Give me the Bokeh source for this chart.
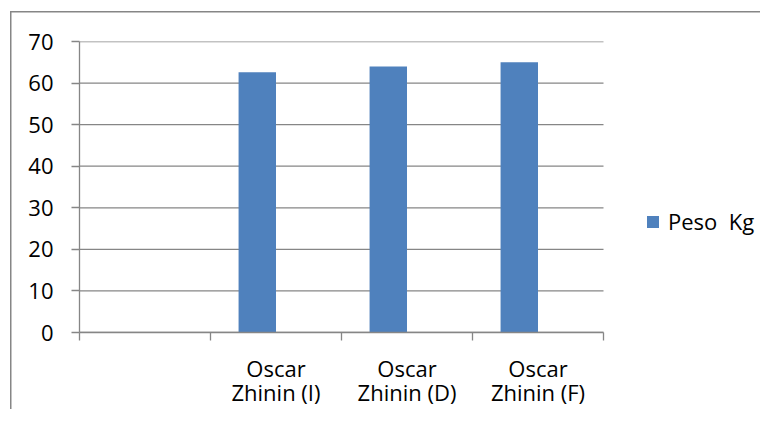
from bokeh.plotting import figure
from bokeh.models import (Range1d, FixedTicker, Legend, LegendItem, ColumnDataSource)
from bokeh.embed import file_html
from bokeh.resources import INLINE

# ---- data ----
categories = ["", "Oscar\nZhinin (I)", "Oscar\nZhinin (D)", "Oscar\nZhinin (F)"]
peso_kg = [None, 62.6, 64.0, 65.0]
series_name = "Peso  Kg"
y_ticks = [0, 10, 20, 30, 40, 50, 60, 70]

BLUE = "#4F81BD"
GRAY = "#868686"
FONT = "Open Sans"

n = len(categories)
# two-series Excel layout (second series empty), gap width 150%
bar_w = 1.0 / 3.5
xs = [i + 0.5 - bar_w / 2 for i in range(n)]
tops = [float("nan") if v is None else v for v in peso_kg]
src = ColumnDataSource(dict(x=xs, top=tops))

W, H = 760, 409
ML, MT, MB = 79, 41, 77
plot_px = 524  # width of the category area
x_end = n * (W - ML) / plot_px  # frame extends to the right to host the legend

p = figure(width=W, height=H, output_backend="svg", toolbar_location=None,
           x_range=Range1d(0, x_end), y_range=Range1d(0, 70),
           min_border_left=ML, min_border_right=0, min_border_top=MT, min_border_bottom=MB)
p.outline_line_color = None
p.background_fill_color = "white"
p.border_fill_alpha = 0
# chart-area border (only its top and left edges fall inside the picture)
p.styles = {
    "background-color": "white",
    "background-image": "linear-gradient(#868686,#868686), linear-gradient(#868686,#868686)",
    "background-size": "1.5px 100%, 100% 1.5px",
    "background-position": "10px 11px, 10px 11px",
    "background-repeat": "no-repeat",
}

# horizontal gridlines limited to the category area
p.segment(x0=[0] * len(y_ticks), x1=[n] * len(y_ticks), y0=y_ticks, y1=y_ticks,
          line_color=GRAY, line_width=1.3)

r = p.vbar(x="x", top="top", width=bar_w, bottom=0, source=src,
           fill_color=BLUE, line_color=None)

# x axis
xa = p.xaxis[0]
xa.bounds = (0, n)
xa.ticker = FixedTicker(ticks=[i + 0.5 for i in range(n)], minor_ticks=list(range(n + 1)))
xa.major_label_overrides = {i + 0.5: c for i, c in enumerate(categories)}
xa.major_tick_line_color = None
xa.major_tick_out = 0
xa.major_tick_in = 0
xa.minor_tick_line_color = GRAY
xa.minor_tick_out = 8
xa.minor_tick_in = 0
xa.axis_line_color = GRAY
xa.axis_line_width = 1.3
xa.minor_tick_line_width = 1.3
xa.major_label_text_font = FONT
xa.major_label_text_font_size = "22px"
xa.major_label_text_line_height = 0.8
xa.major_label_text_color = "black"
xa.major_label_standoff = 12

# y axis
ya = p.yaxis[0]
ya.ticker = FixedTicker(ticks=y_ticks, minor_ticks=[])
ya.major_tick_line_color = GRAY
ya.major_tick_out = 8
ya.major_tick_in = 0
ya.axis_line_color = GRAY
ya.axis_line_width = 1.3
ya.major_tick_line_width = 1.3
ya.major_label_text_font = FONT
ya.major_label_text_font_size = "22px"
ya.major_label_text_color = "black"
ya.major_label_standoff = 18

p.xgrid.grid_line_color = None
p.ygrid.grid_line_color = None

legend = Legend(items=[LegendItem(label=series_name, renderers=[r])],
                location=(566, 96), glyph_width=15, glyph_height=15,
                label_standoff=8, padding=0, margin=0, spacing=0,
                border_line_color=None, background_fill_alpha=0,
                label_text_font=FONT, label_text_font_size="22px",
                label_text_color="black")
p.add_layout(legend)

open("out.html", "w").write(file_html(p, INLINE))
